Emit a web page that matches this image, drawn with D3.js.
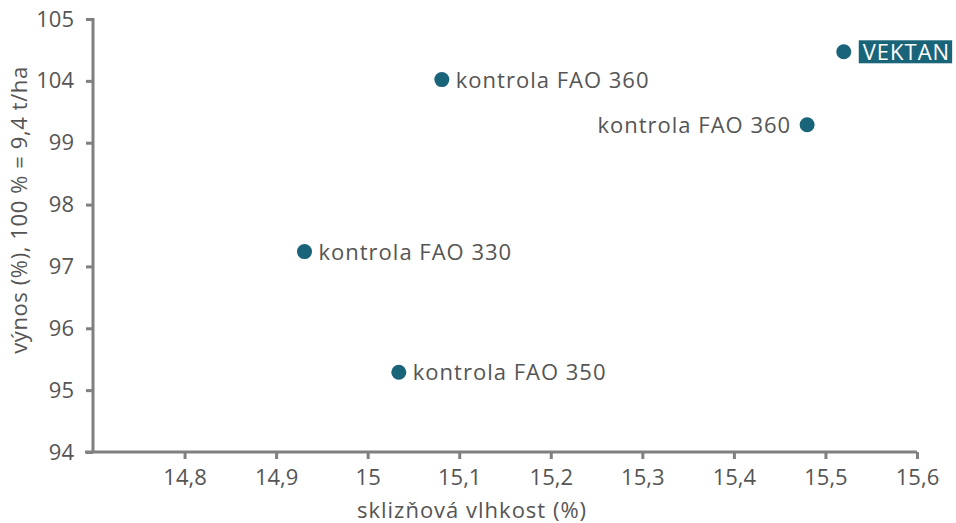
<!DOCTYPE html>
<html><head><meta charset="utf-8">
<script src="https://cdn.jsdelivr.net/npm/d3@7"></script>
<style>body{margin:0;background:#fff}svg{display:block}text{font-family:"Open Sans",sans-serif}</style>
</head><body><svg id="c" width="956" height="523"></svg>
<script>
const names = ["VEKTAN","kontrola FAO 360","kontrola FAO 360","kontrola FAO 330","kontrola FAO 350"];
const moisture = [15.52, 15.081, 15.48, 14.931, 15.034];
const yieldPct = [104.47, 104.02, 100.45, 97.24, 95.29];
const labelSide = ["right","right","left","right","right"];
const xTicks = [14.8,14.9,15,15.1,15.2,15.3,15.4,15.5,15.6];
const yTicks = [94,95,96,97,98,99,104,105];

const svg = d3.select("#c");
const L=93, R=917, T=19, B=452;
const x = d3.scaleLinear().domain([14.7,15.6]).range([L,R]);
const step = (B-T)/(yTicks.length-1);
const y = d3.scaleLinear().domain(yTicks).range(yTicks.map((d,i)=>B-i*step));
const axisColor="#808080", textColor="#555";
const fmt = d=>String(d).replace(".",",");

const gx = svg.append("g").attr("transform",`translate(0,${B})`)
  .call(d3.axisBottom(x).tickValues(xTicks).tickFormat(fmt).tickSize(7).tickSizeOuter(0).tickPadding(10));
const gy = svg.append("g").attr("transform",`translate(${L},0)`)
  .call(d3.axisLeft(y).tickValues(yTicks).tickFormat(d=>d).tickSize(7).tickSizeOuter(0).tickPadding(12));
[gx,gy].forEach(g=>{
  g.select(".domain").attr("stroke",axisColor).attr("stroke-width",3);
  g.selectAll(".tick line").attr("stroke",axisColor).attr("stroke-width",3);
  g.selectAll(".tick text").attr("fill",textColor).attr("font-size",22).attr("font-family","'Open Sans',sans-serif");
});
gx.select(".domain").attr("d",`M${L-8},0H${R}`);
gy.select(".domain").attr("d",`M0,${T-1}V${B}`);

svg.append("text").attr("transform",`translate(27,210) rotate(-90)`).attr("text-anchor","middle")
  .attr("fill",textColor).attr("font-size",22).attr("letter-spacing",0.6).text("výnos (%), 100 % = 9,4 t/ha");
svg.append("text").attr("x",472).attr("y",518).attr("text-anchor","middle")
  .attr("fill",textColor).attr("font-size",22).attr("letter-spacing",1).text("sklizňová vlhkost (%)");

const teal="#1a6479";
const data = names.map((n,i)=>({n,x:moisture[i],y:yieldPct[i],side:labelSide[i],i}));
const g = svg.append("g");
g.selectAll("circle").data(data).join("circle")
  .attr("cx",d=>x(d.x)).attr("cy",d=>y(d.y)).attr("r",7.5).attr("fill",teal);
data.forEach(d=>{
  const cx=x(d.x), cy=y(d.y);
  if(d.i===0){
    const t=g.append("text").attr("x",cx+19).attr("y",cy+8).attr("fill","#fff").attr("font-size",22).attr("letter-spacing",1).text(d.n);
    const bb=t.node().getBBox();
    g.insert("rect","text").attr("x",cx+15).attr("y",cy-11.5).attr("width",bb.width+6).attr("height",23).attr("fill",teal);
    t.raise();
  } else {
    g.append("text").attr("x",d.side==="right"?cx+14:cx-16).attr("y",cy+8)
      .attr("text-anchor",d.side==="right"?"start":"end").attr("fill",textColor).attr("font-size",22).attr("letter-spacing",1).text(d.n);
  }
});
</script></body></html>
